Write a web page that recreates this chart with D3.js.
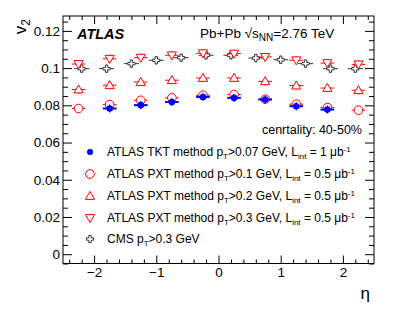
<!DOCTYPE html>
<html>
<head>
<meta charset="utf-8">
<script src="https://cdn.jsdelivr.net/npm/d3@7"></script>
<style>
  body { margin: 0; background: #fff; }
  text { font-family: "Liberation Sans", Arial, sans-serif; fill: #000; }
</style>
</head>
<body>
<script>
// eta bin centres
var atlasEta = [-2.25, -1.75, -1.25, -0.75, -0.25, 0.25, 0.75, 1.25, 1.75, 2.25];
var tktEta = [-1.75, -1.25, -0.75, -0.25, 0.25, 0.75, 1.25, 1.75];
var cmsEta = [-2.2, -1.8, -1.4, -1.0, -0.6, -0.2, 0.2, 0.6, 1.0, 1.4, 1.8, 2.2];

// v2 values
var tktV2 = [0.0783, 0.0801, 0.0818, 0.0845, 0.0840, 0.0831, 0.0795, 0.0777];
var pxt01V2 = [0.0783, 0.0804, 0.0827, 0.0840, 0.0854, 0.0858, 0.0833, 0.0806, 0.0788, 0.0774];
var pxt02V2 = [0.0885, 0.0908, 0.0925, 0.0935, 0.0947, 0.0947, 0.0929, 0.0906, 0.0893, 0.0881];
var pxt03V2 = [0.1022, 0.1050, 0.1056, 0.1069, 0.1080, 0.1078, 0.1060, 0.1042, 0.1027, 0.1020];
var cmsV2 = [0.0997, 0.0997, 0.1024, 0.1042, 0.1056, 0.1069, 0.1069, 0.1054, 0.1045, 0.1024, 0.0997, 0.0997];

var yTicks = [0, 0.02, 0.04, 0.06, 0.08, 0.1, 0.12];
var xTicks = [-2, -1, 0, 1, 2];

var w = 395, h = 314;
var svg = d3.select("body").append("svg").attr("width", w).attr("height", h);

var x = d3.scaleLinear().domain([-2.5, 2.5]).range([63, 374]);
var y = d3.scaleLinear().domain([-0.005, 0.128]).range([263.5, 16]);

var yMinor = d3.range(-0.005, 0.1281, 0.005).filter(function(d){ return Math.abs(Math.round(d / 0.02) * 0.02 - d) > 1e-6; });
var xMinor = d3.range(-2.4, 2.41, 0.2).filter(function(d){ return Math.abs(Math.round(d) - d) > 1e-6; });

function styleAxis(g) {
  g.select(".domain").remove();
  g.selectAll("line").attr("stroke", "#000").attr("stroke-width", 1);
  g.selectAll("text").style("font-size", "13.5px").style("font-family", "Liberation Sans, Arial, sans-serif");
}

// frame
svg.append("rect")
  .attr("x", x.range()[0]).attr("y", y.range()[1])
  .attr("width", x.range()[1] - x.range()[0])
  .attr("height", y.range()[0] - y.range()[1])
  .attr("fill", "none").attr("stroke", "#000").attr("stroke-width", 1);

// left axis
svg.append("g").attr("transform", "translate(" + x.range()[0] + ",0)")
  .call(d3.axisLeft(y).tickValues(yTicks).tickSize(-9).tickPadding(3)
    .tickFormat(function(d){ return d === 0 ? "0" : d3.format("")(+d.toFixed(2)); }))
  .call(styleAxis);
svg.append("g").attr("transform", "translate(" + x.range()[0] + ",0)")
  .call(d3.axisLeft(y).tickValues(yMinor).tickSize(-5).tickFormat(""))
  .call(styleAxis);
// right axis
svg.append("g").attr("transform", "translate(" + x.range()[1] + ",0)")
  .call(d3.axisRight(y).tickValues(yTicks).tickSize(-9).tickFormat(""))
  .call(styleAxis);
svg.append("g").attr("transform", "translate(" + x.range()[1] + ",0)")
  .call(d3.axisRight(y).tickValues(yMinor).tickSize(-5).tickFormat(""))
  .call(styleAxis);
// bottom axis
svg.append("g").attr("transform", "translate(0," + y.range()[0] + ")")
  .call(d3.axisBottom(x).tickValues(xTicks).tickSize(-8).tickPadding(4)
    .tickFormat(d3.format("d")))
  .call(styleAxis);
svg.append("g").attr("transform", "translate(0," + y.range()[0] + ")")
  .call(d3.axisBottom(x).tickValues(xMinor).tickSize(-4).tickFormat(""))
  .call(styleAxis);
// top axis
svg.append("g").attr("transform", "translate(0," + y.range()[1] + ")")
  .call(d3.axisTop(x).tickValues(xTicks).tickSize(-8).tickFormat(""))
  .call(styleAxis);
svg.append("g").attr("transform", "translate(0," + y.range()[1] + ")")
  .call(d3.axisTop(x).tickValues(xMinor).tickSize(-4).tickFormat(""))
  .call(styleAxis);

// axis titles
var yl = svg.append("text")
  .attr("transform", "translate(26,19) rotate(-90)")
  .attr("text-anchor", "end")
  .style("font-size", "17px");
yl.append("tspan").text("v");
yl.append("tspan").attr("dy", 4).style("font-size", "12px").text("2");

svg.append("text").attr("x", 370).attr("y", 299)
  .attr("text-anchor", "end").style("font-size", "17px").text("η");

// markers
var red = "#ff0000", blue = "#0000ff", grey = "#333333";
var ex = 0.11, ey = 0.0022;

function errBars(eta, vals, color, xe, thick) {
  var g = svg.append("g");
  g.selectAll(".hx").data(vals).enter().append("line")
    .attr("x1", function(d, i){ return x(eta[i] - xe); })
    .attr("x2", function(d, i){ return x(eta[i] + xe); })
    .attr("y1", function(d){ return y(d); })
    .attr("y2", function(d){ return y(d); })
    .attr("stroke", color).attr("stroke-width", thick || 1);
  g.selectAll(".vy").data(vals).enter().append("line")
    .attr("x1", function(d, i){ return x(eta[i]); })
    .attr("x2", function(d, i){ return x(eta[i]); })
    .attr("y1", function(d){ return y(d - ey); })
    .attr("y2", function(d){ return y(d + ey); })
    .attr("stroke", color).attr("stroke-width", 1);
}

var triUp = "M0,-4.6L4.6,3.4L-4.6,3.4Z";
var triDown = "M0,4.6L4.6,-3.4L-4.6,-3.4Z";
var cross = "M-1.2,-3.6L1.2,-3.6L1.2,-1.2L3.6,-1.2L3.6,1.2L1.2,1.2L1.2,3.6L-1.2,3.6L-1.2,1.2L-3.6,1.2L-3.6,-1.2L-1.2,-1.2Z";

function pathMarks(eta, vals, d, stroke, fill) {
  svg.append("g").selectAll("path").data(vals).enter().append("path")
    .attr("d", d)
    .attr("transform", function(v, i){ return "translate(" + x(eta[i]) + "," + y(v) + ")"; })
    .attr("fill", fill).attr("stroke", stroke).attr("stroke-width", 1);
}

errBars(cmsEta, cmsV2, grey, 0.12);
pathMarks(cmsEta, cmsV2, cross, grey, "#fff");

errBars(atlasEta, pxt03V2, red, ex);
pathMarks(atlasEta, pxt03V2, triDown, red, "#fff");

errBars(atlasEta, pxt02V2, red, ex);
pathMarks(atlasEta, pxt02V2, triUp, red, "#fff");

errBars(atlasEta, pxt01V2, red, ex);
svg.append("g").selectAll("circle").data(pxt01V2).enter().append("circle")
  .attr("cx", function(d, i){ return x(atlasEta[i]); })
  .attr("cy", function(d){ return y(d); })
  .attr("r", 4.3).attr("fill", "#fff").attr("stroke", red);

errBars(tktEta, tktV2, blue, ex, 2);
svg.append("g").selectAll("circle").data(tktV2).enter().append("circle")
  .attr("cx", function(d, i){ return x(tktEta[i]); })
  .attr("cy", function(d){ return y(d); })
  .attr("r", 3.3).attr("fill", blue);

// labels
svg.append("text").attr("x", 77).attr("y", 39)
  .style("font-size", "14.5px").style("font-weight", "bold").style("font-style", "italic")
  .text("ATLAS");

var t = svg.append("text").attr("x", 200).attr("y", 38).style("font-size", "13.5px");
t.append("tspan").text("Pb+Pb ");
t.append("tspan").text("√");
t.append("tspan").text("s");
t.append("tspan").attr("dy", 3).style("font-size", "10px").text("NN");
t.append("tspan").attr("dy", -3).text("=2.76 TeV");

svg.append("text").attr("x", 362).attr("y", 134)
  .attr("text-anchor", "end").style("font-size", "12.5px").text("cenrtality: 40-50%");

// legend
var legY = [152, 174, 196, 218, 239];
var legX = 90, legTx = 107;
function legText(row, pt, lint) {
  var tt = svg.append("text").attr("x", legTx).attr("y", legY[row] + 4).style("font-size", "12px");
  tt.append("tspan").text(pt[0]);
  tt.append("tspan").attr("dy", 3).style("font-size", "8px").text("T");
  tt.append("tspan").attr("dy", -3).text(pt[1]);
  if (lint) {
    tt.append("tspan").text(", L");
    tt.append("tspan").attr("dy", 3).style("font-size", "8px").text("int");
    tt.append("tspan").attr("dy", -3).text(" = " + lint + " μb");
    tt.append("tspan").attr("dy", -4).style("font-size", "8px").text("-1");
  }
}
svg.append("circle").attr("cx", legX).attr("cy", legY[0]).attr("r", 3).attr("fill", blue);
legText(0, ["ATLAS TKT method p", ">0.07 GeV"], "1");
svg.append("circle").attr("cx", legX).attr("cy", legY[1]).attr("r", 4.3).attr("fill", "none").attr("stroke", red);
legText(1, ["ATLAS PXT method p", ">0.1 GeV"], "0.5");
svg.append("path").attr("d", triUp).attr("transform", "translate(" + legX + "," + legY[2] + ")").attr("fill", "none").attr("stroke", red);
legText(2, ["ATLAS PXT method p", ">0.2 GeV"], "0.5");
svg.append("path").attr("d", triDown).attr("transform", "translate(" + legX + "," + legY[3] + ")").attr("fill", "none").attr("stroke", red);
legText(3, ["ATLAS PXT method p", ">0.3 GeV"], "0.5");
svg.append("path").attr("d", cross).attr("transform", "translate(" + legX + "," + legY[4] + ")").attr("fill", "none").attr("stroke", grey);
legText(4, ["CMS p", ">0.3 GeV"], null);
</script>
</body>
</html>
